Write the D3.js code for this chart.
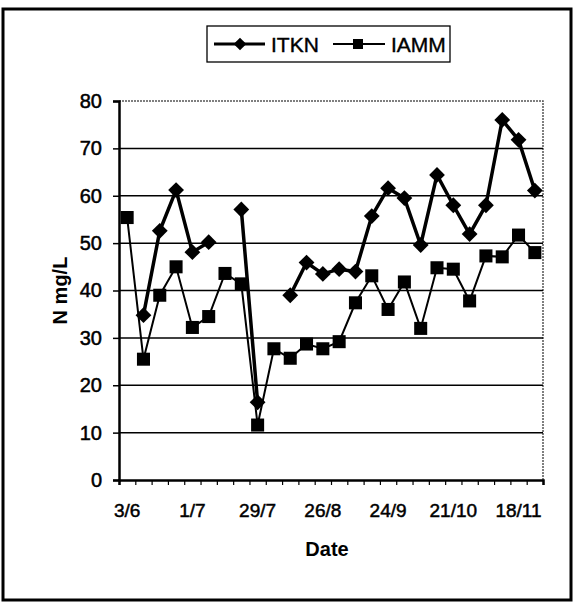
<!DOCTYPE html>
<html>
<head>
<meta charset="utf-8">
<script src="https://cdn.jsdelivr.net/npm/d3@7"></script>
<style>
  html, body { margin: 0; padding: 0; background: #fff; }
  svg { display: block; font-family: Arial, "Liberation Sans", sans-serif; }
</style>
</head>
<body>
<svg id="chart" width="574" height="603"></svg>
<script>
// ---- data ----
const tickLabels = ["3/6", "1/7", "29/7", "26/8", "24/9", "21/10", "18/11"];
const labelEvery = 4;
const nCategories = 26;
const itkn = [null, 34.8, 52.6, 61.2, 48.1, 50.2, null, 57.1, 16.4, null, 39.0, 45.9, 43.5,
              44.5, 44.0, 55.7, 61.6, 59.5, 49.6, 64.4, 58.0, 51.9, 58.0, 76.0, 71.8, 61.1];
const iamm = [55.4, 25.5, 39.0, 45.0, 32.2, 34.5, 43.6, 41.4, 11.6, 27.7, 25.7, 28.7, 27.7,
              29.2, 37.4, 43.1, 36.0, 41.8, 32.0, 44.8, 44.5, 37.8, 47.3, 47.1, 51.7, 48.0];
const yTicks = [0, 10, 20, 30, 40, 50, 60, 70, 80];
const seriesNames = ["ITKN", "IAMM"];

// ---- layout ----
const svg = d3.select("#chart");
const L = 119, R = 543, T = 101, B = 480;
const x = d3.scaleLinear().domain([0, nCategories]).range([L, R]);
const y = d3.scaleLinear().domain([0, 80]).range([B, T]);
const cx = i => x(i + 0.5);

// outer frame
svg.append("rect").attr("x", 3).attr("y", 9).attr("width", 568).attr("height", 591)
  .attr("fill", "none").attr("stroke", "#000").attr("stroke-width", 3);

// plot border (top/right light)
svg.append("path").attr("d", `M${L},${T}H${R}V${B}`)
  .attr("fill", "none").attr("stroke", "#555").attr("stroke-width", 1.5)
  .attr("stroke-dasharray", "2,1");

// gridlines
svg.append("g").selectAll("line").data(yTicks.filter(d => d > 0 && d < 80)).join("line")
  .attr("x1", L).attr("x2", R).attr("y1", d => y(d)).attr("y2", d => y(d))
  .attr("stroke", "#000").attr("stroke-width", 1.5);

// y axis
const yAxis = svg.append("g").attr("transform", `translate(${L},0)`)
  .call(d3.axisLeft(y).tickValues(yTicks).tickSize(6).tickPadding(11));
yAxis.select(".domain").attr("stroke", "#000").attr("stroke-width", 2.5);
yAxis.selectAll(".tick line").attr("stroke-width", 1.5);
yAxis.selectAll("text").attr("font-size", 20).attr("fill", "#000")
  .attr("stroke", "#000").attr("stroke-width", 0.5)
  .attr("font-family", "Arial, 'Liberation Sans', sans-serif");

// x axis: ticks at category boundaries, labels every 4th category
const xAxis = svg.append("g").attr("transform", `translate(0,${B})`)
  .call(d3.axisBottom(x).tickValues(d3.range(0, nCategories + 1)).tickSize(5).tickFormat(""));
xAxis.select(".domain").attr("stroke", "#000").attr("stroke-width", 2.5);
xAxis.selectAll(".tick line").attr("stroke-width", 1.2);

svg.append("g").selectAll("text").data(tickLabels).join("text")
  .attr("x", (d, i) => cx(i * labelEvery)).attr("y", 517)
  .attr("text-anchor", "middle").attr("font-size", 19).attr("fill", "#000")
  .attr("stroke", "#000").attr("stroke-width", 0.5)
  .text(d => d);

// axis titles
svg.append("text").attr("x", 327).attr("y", 556).attr("text-anchor", "middle")
  .attr("font-size", 20).attr("font-weight", "bold").text("Date");
svg.append("text").attr("transform", `translate(67,${(T + B) / 2}) rotate(-90)`)
  .attr("text-anchor", "middle").attr("font-size", 20).attr("font-weight", "bold")
  .text("N mg/L");

// series
const line = d3.line().defined(d => d.v != null).x(d => cx(d.i)).y(d => y(d.v));
const toPts = arr => arr.map((v, i) => ({ i, v }));

svg.append("path").datum(toPts(iamm)).attr("d", line)
  .attr("fill", "none").attr("stroke", "#000").attr("stroke-width", 2);
svg.append("path").datum(toPts(itkn)).attr("d", line)
  .attr("fill", "none").attr("stroke", "#000").attr("stroke-width", 3.5);

svg.append("g").selectAll("path").data(toPts(iamm)).join("path")
  .attr("transform", d => `translate(${cx(d.i)},${y(d.v)})`)
  .attr("d", d3.symbol().type(d3.symbolSquare).size(170)).attr("fill", "#000");
svg.append("g").selectAll("path").data(toPts(itkn).filter(d => d.v != null)).join("path")
  .attr("transform", d => `translate(${cx(d.i)},${y(d.v)}) rotate(45)`)
  .attr("d", d3.symbol().type(d3.symbolSquare).size(125)).attr("fill", "#000");

// legend
const lg = svg.append("g");
lg.append("rect").attr("x", 207).attr("y", 26).attr("width", 243).attr("height", 36)
  .attr("fill", "#fff").attr("stroke", "#000").attr("stroke-width", 1.3);
const legendItems = [
  { name: seriesNames[0], x0: 214, x1: 265, m: 240, sw: 3, shape: "diamond" },
  { name: seriesNames[1], x0: 333, x1: 385, m: 358, sw: 2, shape: "square" }
];
legendItems.forEach(it => {
  lg.append("line").attr("x1", it.x0).attr("x2", it.x1).attr("y1", 44).attr("y2", 44)
    .attr("stroke", "#000").attr("stroke-width", it.sw);
  if (it.shape === "diamond") {
    lg.append("path").attr("transform", `translate(${it.m},44) rotate(45)`)
      .attr("d", d3.symbol().type(d3.symbolSquare).size(80)).attr("fill", "#000");
  } else {
    lg.append("path").attr("transform", `translate(${it.m},44)`)
      .attr("d", d3.symbol().type(d3.symbolSquare).size(100)).attr("fill", "#000");
  }
  lg.append("text").attr("x", it.x1 + 6).attr("y", 51.5).attr("font-size", 21)
    .attr("fill", "#000").attr("stroke", "#000").attr("stroke-width", 0.4).text(it.name);
});
</script>
</body>
</html>
